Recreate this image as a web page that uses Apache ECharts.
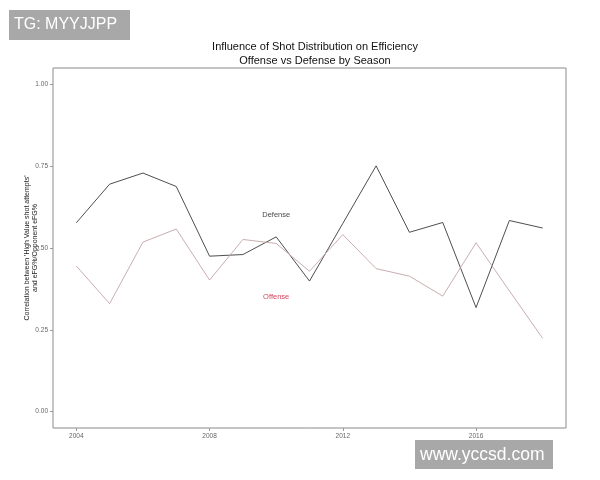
<!DOCTYPE html>
<html><head><meta charset="utf-8">
<script src="https://cdn.jsdelivr.net/npm/echarts@6/dist/echarts.min.js"></script>
<style>html,body{margin:0;padding:0;background:#fff}#c{width:600px;height:480px}</style>
</head><body><div id="c"></div>
<script>
const years = [2004,2005,2006,2007,2008,2009,2010,2011,2012,2013,2014,2015,2016,2017,2018];
const defense = [0.577,0.695,0.729,0.688,0.475,0.480,0.534,0.399,0.575,0.751,0.548,0.578,0.318,0.584,0.561];
const offense = [0.445,0.330,0.518,0.558,0.402,0.526,0.514,0.429,0.541,0.437,0.414,0.353,0.516,0.369,0.224];
const xTicks = [2004,2008,2012,2016];
const yTicks = [0,0.25,0.5,0.75,1];
const labelPos = {Defense:[2010,0.60], Offense:[2010,0.35]};

const chart = echarts.init(document.getElementById('c'), null, {renderer:'canvas'});
const ff = 'Liberation Sans, Arial, sans-serif';
chart.setOption({
  backgroundColor:'#fff',
  animation:false,
  title:{
    text:'Influence of Shot Distribution on Efficiency\nOffense vs Defense by Season',
    left:310, top:35, textAlign:'center',
    textStyle:{fontFamily:ff,fontSize:11,fontWeight:'normal',color:'#111',lineHeight:14}
  },
  grid:{left:53,right:34,top:68,bottom:52,show:true,borderColor:'#8a8a8a',borderWidth:1,backgroundColor:'#fff'},
  xAxis:{type:'value',min:2003.3,max:2018.7,
    axisLine:{show:false,onZero:false},splitLine:{show:false},
    axisTick:{show:true,customValues:xTicks,length:3,lineStyle:{color:'#999'}},
    axisLabel:{customValues:xTicks,fontFamily:ff,fontSize:6.5,color:'#666',margin:5,formatter:v=>String(v)}},
  yAxis:{type:'value',min:-0.05,max:1.05,
    axisLine:{show:false,onZero:false},splitLine:{show:false},
    axisTick:{show:true,customValues:yTicks,length:3,lineStyle:{color:'#999'}},
    axisLabel:{customValues:yTicks,fontFamily:ff,fontSize:6.5,color:'#666',margin:5,formatter:v=>v.toFixed(2)}},
  series:[
    {name:'Defense',type:'line',data:years.map((y,i)=>[y,defense[i]]),showSymbol:false,symbol:'none',
     lineStyle:{color:'#3a3a3a',width:0.9}},
    {name:'Offense',type:'line',data:years.map((y,i)=>[y,offense[i]]),showSymbol:false,symbol:'none',
     lineStyle:{color:'#c4a4a6',width:0.9}},
    {type:'scatter',symbolSize:0,silent:true,
     data:[{value:labelPos.Defense,name:'Defense',label:{color:'#111'}},{value:labelPos.Offense,name:'Offense',label:{color:'#c8102e'}}],
     label:{show:true,position:'inside',formatter:p=>p.name,fontFamily:ff,fontSize:7.5}}
  ],
  graphic:[
    {type:'text',x:31,y:248,rotation:Math.PI/2,
     style:{text:"Correlation between 'High Value shot attempts'\nand eFG%/Opponent eFG%",fill:'#222',
       font:'7px '+ff,lineHeight:8,textAlign:'center',textVerticalAlign:'middle'}},
    {type:'rect',shape:{x:9,y:10,width:121,height:30},style:{fill:'#a8a8a8'}},
    {type:'text',x:14,y:25,style:{text:'TG: MYYJJPP',fill:'#fff',font:'16px '+ff,textVerticalAlign:'middle'}},
    {type:'rect',shape:{x:415,y:440,width:138,height:29},style:{fill:'#a8a8a8'}},
    {type:'text',x:420,y:455,style:{text:'www.yccsd.com',fill:'#fff',font:'17.5px '+ff,textVerticalAlign:'middle'}}
  ]
});
</script></body></html>
